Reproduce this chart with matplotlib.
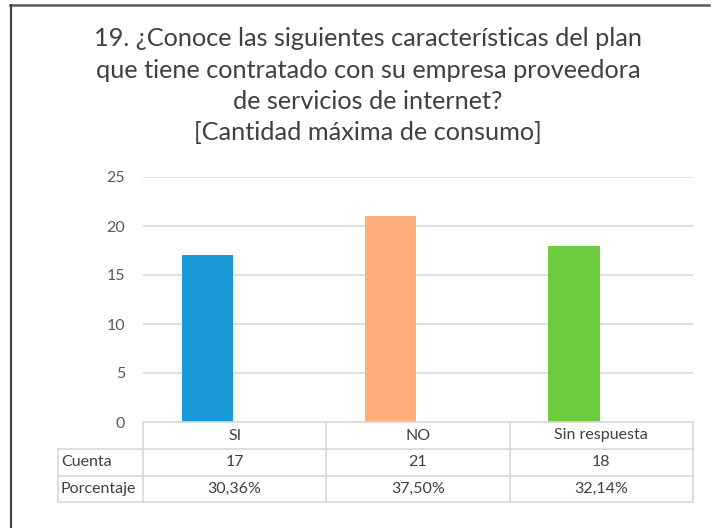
import matplotlib.pyplot as plt
from matplotlib.lines import Line2D

# data
categories = ['SI', 'NO', 'Sin respuesta']
cuenta = [17, 21, 18]
porcentaje = ['30,36%', '37,50%', '32,14%']
colors = ['#1a9ad6', '#fdae7b', '#6dcc3d']
title_lines = ['19. ¿Conoce las siguientes características del plan',
               'que tiene contratado con su empresa proveedora',
               'de servicios de internet?',
               '[Cantidad máxima de consumo]']

plt.rcParams['font.family'] = ['Lato', 'DejaVu Sans']

W, H = 714, 528
fig = plt.figure(figsize=(W / 100, H / 100), dpi=100)

def fx(px):
    return px / W

def fy(py):
    return 1 - py / H

# outer frame (top and left edges visible)
fig.add_artist(Line2D([fx(10), fx(709)], [fy(5), fy(5)], color='#595959', lw=1.8))
fig.add_artist(Line2D([fx(11), fx(11)], [fy(5), fy(528)], color='#404040', lw=1.5))

# title
baselines = [46, 78, 109, 140]
for line, b in zip(title_lines, baselines):
    fig.text(fx(368), fy(b), line, ha='center', va='baseline', fontsize=18.2, color='#404040')

# bar chart
left, right, top, bottom = 143, 693, 177, 422
ax = fig.add_axes([fx(left), fy(bottom), fx(right - left), fy(top) - fy(bottom)])
x = [i - 0.15 for i in range(len(categories))]  # bars sit left of the column centres
ax.bar(x, cuenta, width=0.28, color=colors, zorder=3)
ax.set_xlim(-0.5, len(categories) - 0.5)
ax.set_ylim(0, 25)
ax.set_yticks([0, 5, 10, 15, 20, 25])
ax.set_xticks([])
ax.grid(axis='y', color='#d9d9d9', lw=1.2, zorder=0)
for s in ax.spines.values():
    s.set_visible(False)
ax.tick_params(axis='y', length=0, pad=13, labelsize=11.5, labelcolor='#595959')

# data table below the axis
rows = [422, 449, 476, 502]
label_left = 58
col_edges = [left + i * (right - left) / 3 for i in range(4)]
gc = '#d9d9d9'
fig.add_artist(Line2D([fx(left), fx(right)], [fy(rows[0]), fy(rows[0])], color=gc, lw=1.2))
for r in rows[1:]:
    fig.add_artist(Line2D([fx(label_left), fx(right)], [fy(r), fy(r)], color=gc, lw=1.2))
fig.add_artist(Line2D([fx(label_left), fx(label_left)], [fy(rows[1]), fy(rows[3])], color=gc, lw=1.2))
for c in col_edges:
    fig.add_artist(Line2D([fx(c), fx(c)], [fy(rows[0]), fy(rows[3])], color=gc, lw=1.2))

tc = '#404040'
fs = 11.5
for i, cat in enumerate(categories):
    cx = (col_edges[i] + col_edges[i + 1]) / 2
    fig.text(fx(cx), fy((rows[0] + rows[1]) / 2), cat, ha='center', va='center', fontsize=fs, color=tc)
    fig.text(fx(cx), fy((rows[1] + rows[2]) / 2), str(cuenta[i]), ha='center', va='center', fontsize=fs, color=tc)
    fig.text(fx(cx), fy((rows[2] + rows[3]) / 2), porcentaje[i], ha='center', va='center', fontsize=fs, color=tc)
fig.text(fx(label_left + 3), fy((rows[1] + rows[2]) / 2), 'Cuenta', ha='left', va='center', fontsize=fs, color=tc)
fig.text(fx(label_left + 3), fy((rows[2] + rows[3]) / 2), 'Porcentaje', ha='left', va='center', fontsize=fs, color=tc)

fig.savefig('out.png', dpi=100)
